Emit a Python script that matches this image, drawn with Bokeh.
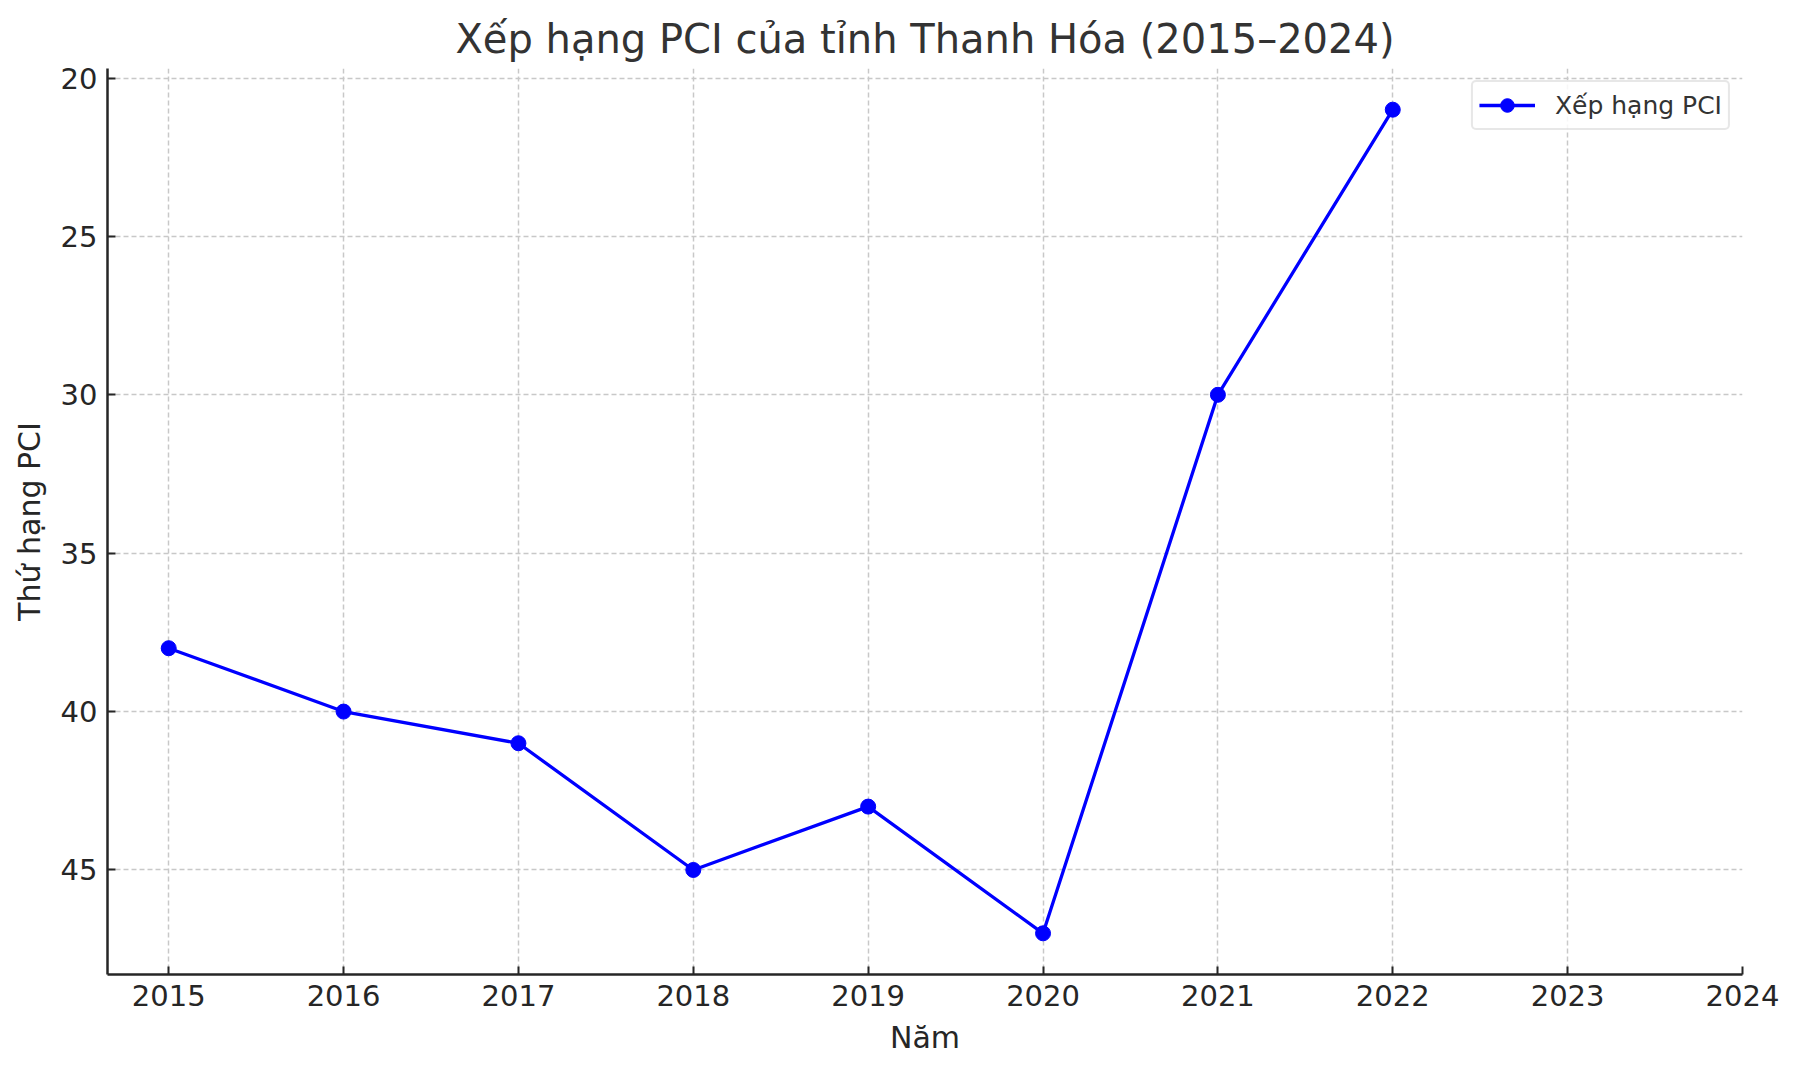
from bokeh.plotting import figure
from bokeh.models import Range1d, FixedTicker, Legend, LegendItem
from bokeh.embed import file_html
from bokeh.resources import INLINE

years = [2015, 2016, 2017, 2018, 2019, 2020, 2021, 2022]
ranks = [38, 40, 41, 45, 43, 47, 30, 21]
x_ticks = [2015, 2016, 2017, 2018, 2019, 2020, 2021, 2022, 2023, 2024]
y_ticks = [20, 25, 30, 35, 40, 45]
series_name = "Xếp hạng PCI"
title_text = "Xếp hạng PCI của tỉnh Thanh Hóa (2015–2024)"
x_label = "Năm"
y_label = "Thứ hạng PCI"

FONT = "DejaVu Sans"
TXT = "#262626"

p = figure(width=1784, height=1057, output_backend="svg", toolbar_location=None,
           x_range=Range1d(2014.65, 2024.0), y_range=Range1d(48.3, 19.7),
           min_border_left=107, min_border_right=42, min_border_top=68, min_border_bottom=82)

p.outline_line_color = None
p.background_fill_color = "white"
p.border_fill_color = "white"

p.title.text = title_text
p.title.align = "center"
p.title.text_font = FONT
p.title.text_font_size = "40px"
p.title.text_font_style = "normal"
p.title.text_color = "#333333"
p.title.standoff = 13

for ax in (p.xaxis[0], p.yaxis[0]):
    ax.axis_line_width = 2.5
    ax.axis_line_color = TXT
    ax.major_tick_in = 8
    ax.major_tick_out = 0
    ax.major_tick_line_width = 2
    ax.major_tick_line_color = TXT
    ax.minor_tick_line_color = None
    ax.major_label_text_font = FONT
    ax.major_label_text_font_size = "29px"
    ax.major_label_text_color = TXT
    ax.axis_label_text_font = FONT
    ax.axis_label_text_font_size = "30px"
    ax.axis_label_text_font_style = "normal"
    ax.axis_label_text_color = TXT

p.xaxis.ticker = FixedTicker(ticks=x_ticks)
p.yaxis.ticker = FixedTicker(ticks=y_ticks)
p.xaxis.axis_label = x_label
p.yaxis.axis_label = y_label
p.xaxis.major_label_standoff = 10
p.yaxis.major_label_standoff = 10
p.xaxis.axis_label_standoff = 11
p.yaxis.axis_label_standoff = 11

for g in (p.xgrid[0], p.ygrid[0]):
    g.grid_line_color = "#c8c8c8"
    g.grid_line_dash = "5 3"
    g.grid_line_width = 1.5

ln = p.line(years, ranks, line_color="#0000ff", line_width=3.3)
pts = p.scatter(years, ranks, size=15, fill_color="#0000ff", line_color="#0000ff")

legend = Legend(items=[LegendItem(label=series_name, renderers=[ln, pts])],
                location="top_right")
legend.margin = 12
legend.padding = 6
legend.label_text_font = FONT
legend.label_text_font_size = "25px"
legend.label_text_color = "#333333"
legend.label_standoff = 20
legend.glyph_width = 56
legend.glyph_height = 34
legend.border_line_color = "#d0d0d0"
legend.border_line_width = 2
legend.background_fill_alpha = 0.85
try:
    legend.border_radius = 5
except Exception:
    pass
p.add_layout(legend, "center")

open("out.html", "w").write(file_html(p, INLINE))
